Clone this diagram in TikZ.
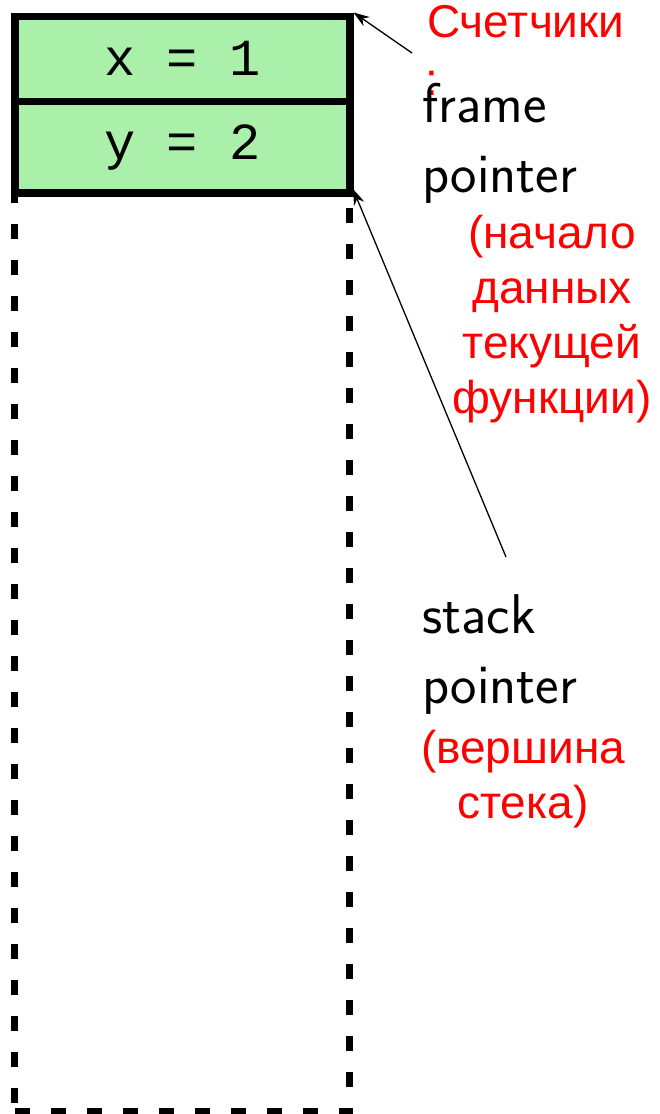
\documentclass[tikz,border=0pt]{standalone}
\usepackage{fontspec}
\newfontfamily\labelfont{Liberation Sans}
\newfontfamily\codefont{Liberation Mono}
\usetikzlibrary{arrows.meta}
\definecolor{cellgreen}{RGB}{170,240,170}
\definecolor{notered}{RGB}{255,0,0}
\tikzset{
  cell/.style={draw=black, line width=7.5pt, fill=cellgreen, minimum width=335pt,
    anchor=north west, inner sep=0pt,
    font=\codefont\fontsize{52}{60}\selectfont},
  freearea/.style={draw=black, line width=7pt, dash pattern=on 15pt off 21pt,
    minimum width=335pt, minimum height=919pt, anchor=north west, inner sep=0pt},
  eng/.style={font=\sffamily\fontsize{56}{70}\selectfont, inner sep=0pt, align=left},
  rus/.style={font=\labelfont\fontsize{46}{55}\selectfont, text=notered, inner sep=0pt, align=center},
  ptr/.style={draw=black, line width=1.3pt, -{Stealth[length=16pt,width=11pt]}}
}
\begin{document}
\begin{tikzpicture}[x=1pt,y=-1pt]
  \useasboundingbox (0,0) rectangle (660,1114);
  % empty part of the stack
  \node[freearea] (free) at (11,189) {};
  % stack frame cells
  \node[cell, minimum height=85pt] (cx) at (11,12.5) {x = 1};
  \node[cell, minimum height=91.5pt] (cy) at (11,97.5) {y = 2};
  % labels (base anchor of a multi-line node sits on its last line)
  \node[rus, anchor=base west, align=left] (cnt) at (427,37) {Счетчики};
  \node[rus, anchor=base] (colon) at (432,95) {:};
  \node[eng, anchor=base west] (fp) at (422,192) {frame\\pointer};
  \node[rus, anchor=base] (fpnote) at (552,413) {(начало\\данных\\текущей\\функции)};
  \node[eng, anchor=base west] (sp) at (422,703) {stack\\pointer};
  \node[rus, anchor=base] (spnote) at (523,818) {(вершина\\стека)};
  % pointers
  \coordinate (fptail) at (412,53);
  \coordinate (sptail) at (506,557);
  \draw[ptr] (fptail) -- (cx.north east);
  \draw[ptr] (sptail) -- (free.north east);
\end{tikzpicture}
\end{document}
